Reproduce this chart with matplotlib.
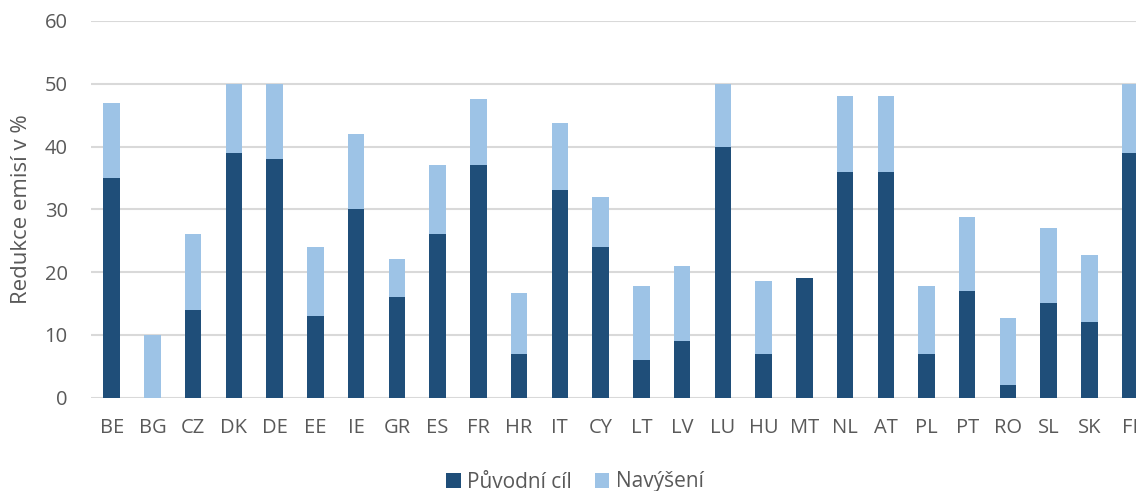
import matplotlib
matplotlib.use("Agg")
import matplotlib.pyplot as plt
import numpy as np

categories = ["BE", "BG", "CZ", "DK", "DE", "EE", "IE", "GR", "ES", "FR", "HR", "IT", "CY", "LT",
              "LV", "LU", "HU", "MT", "NL", "AT", "PL", "PT", "RO", "SL", "SK", "FI"]
puvodni = [35, 0, 14, 39, 38, 13, 30, 16, 26, 37, 7, 33, 24, 6,
           9, 40, 7, 19, 36, 36, 7, 17, 2, 15, 12, 39]
celkem = [47, 10, 26, 50, 50, 24, 42, 22, 37, 47.5, 16.7, 43.7, 32, 17.7,
          21, 50, 18.6, 19, 48, 48, 17.7, 28.7, 12.7, 27, 22.7, 50]
navyseni = [c - p for c, p in zip(celkem, puvodni)]
yticks = [0, 10, 20, 30, 40, 50, 60]

dark = "#1F4E79"
light = "#9DC3E6"
textc = "#595959"

plt.rcParams['font.family'] = ['Open Sans', 'DejaVu Sans']

fig = plt.figure(figsize=(11.36, 4.91), dpi=100)
# axes extends past right edge (last category clipped as in reference)
n_slots = len(categories)
slot_px = 40.74
left_px = 111.7 - slot_px / 2
right_px = left_px + n_slots * slot_px
ax = fig.add_axes([left_px / 1136, 1 - 397.5 / 491, (right_px - left_px) / 1136, (397.5 - 21) / 491])

x = np.arange(len(categories))
w = 0.405
ax.bar(x, puvodni, w, color=dark, label="Původní cíl", zorder=3)
ax.bar(x, navyseni, w, bottom=puvodni, color=light, label="Navýšení", zorder=3)

ax.set_xlim(-0.5, n_slots - 0.5)
ax.set_ylim(0, 60)
ax.set_yticks(yticks)
ax.set_xticks(x)
ax.set_xticklabels(categories)
ax.yaxis.grid(True, color="#D9D9D9", linewidth=1.5, zorder=0)
ax.set_axisbelow(True)
for s in ax.spines.values():
    s.set_visible(False)
ax.tick_params(axis="both", length=0, colors=textc, labelsize=14.5)
ax.tick_params(axis="y", pad=17)
ax.tick_params(axis="x", pad=15)

fig.text(22 / 1136, 1 - 209 / 491, "Redukce emisí v %", rotation=90, ha="center", va="center",
         color=textc, fontsize=16)

leg = fig.legend(loc="center", bbox_to_anchor=(575 / 1136, 1 - 482 / 491), ncol=2, frameon=False,
                 fontsize=15, handlelength=0.7, handleheight=0.7, handletextpad=0.3,
                 columnspacing=1.1, labelcolor=textc)

fig.savefig("out.png", dpi=100)
